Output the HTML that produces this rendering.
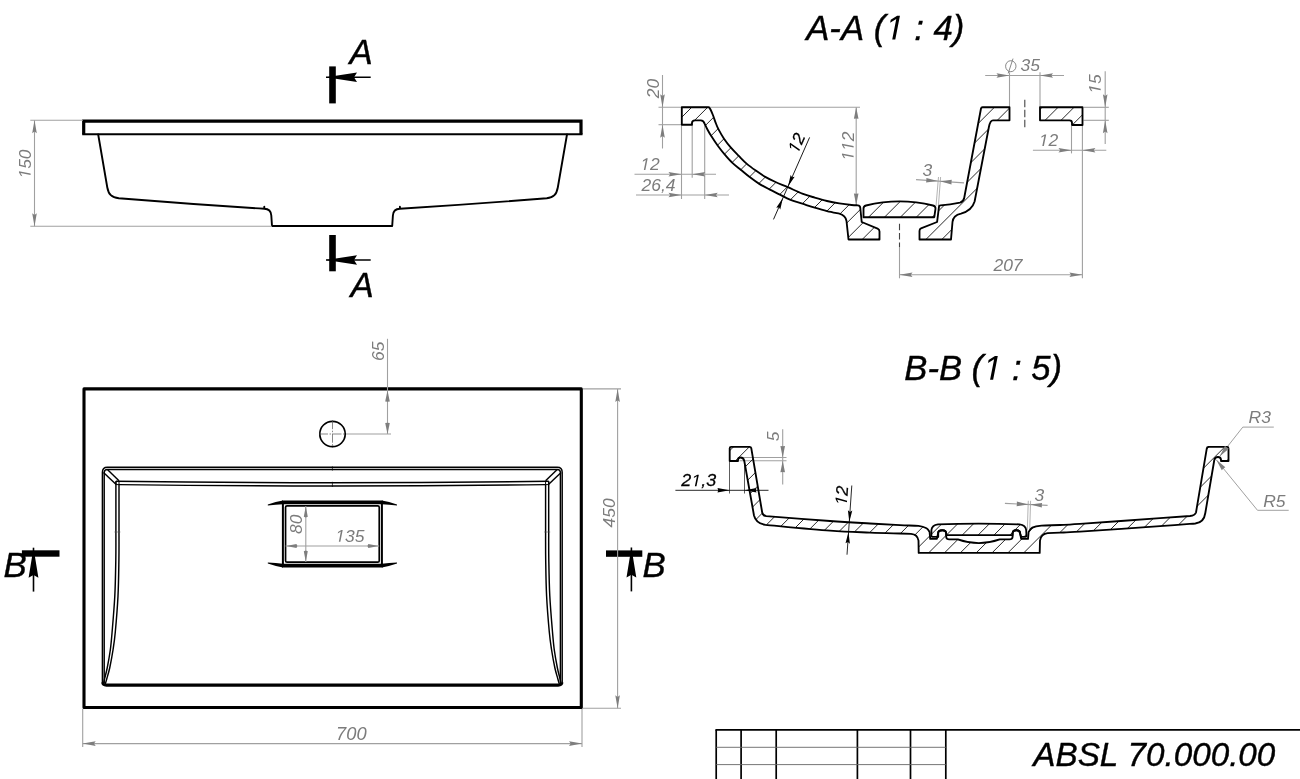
<!DOCTYPE html>
<html><head><meta charset="utf-8"><title>ABSL 70.000.00</title>
<style>html,body{margin:0;padding:0;background:#fff;}body{width:1300px;height:779px;overflow:hidden;}svg{display:block;filter:grayscale(1);}text{font-family:"Liberation Sans",sans-serif;font-style:italic;}</style></head>
<body>
<svg width="1300" height="779" viewBox="0 0 1300 779">
<rect width="1300" height="779" fill="#fff"/>
<g id="front" fill="none" stroke="#000" stroke-linejoin="round" stroke-linecap="round">
<path d="M83.7 134.3 L83.7 121.2 L581 121.2 L581 134.3" stroke-width="3.2" stroke-linejoin="miter" stroke-linecap="butt"/>
<path d="M82.2 134.3 L582.5 134.3" stroke-width="2" stroke-linecap="butt"/>
<path d="M98.2 134.5 L107.3 187.5 C108.6 194.5 111.5 197.3 118.8 198.3 Q191 204.2 264.3 208.8 L264.3 206.8 M264.3 208.8 C268.5 209 271 210.6 271.3 215.5 L272 226 L392.2 226 L392.9 215.5 C393.2 210.6 395.7 209 399.9 208.8 L399.9 206.8 M399.9 208.8 Q473 204.2 546.8 198.3 C553.8 197.3 556.5 194.5 557.8 187.5 L567 134.5" stroke-width="1.9"/>
</g>
<line x1="30.3" y1="120.3" x2="83" y2="120.3" stroke="#a0a0a0" stroke-width="1.1" />
<line x1="30.3" y1="226.2" x2="272" y2="226.2" stroke="#a0a0a0" stroke-width="1.1" />
<line x1="34.5" y1="120.3" x2="34.5" y2="226.2" stroke="#a0a0a0" stroke-width="1.1" />
<path transform="translate(34.5 120.3) rotate(-90)" fill="#7e7e7e" d="M0 0 L-13.0 2.3 L-11.3 0 L-13.0 -2.3 Z"/>
<path transform="translate(34.5 226.2) rotate(90)" fill="#7e7e7e" d="M0 0 L-13.0 2.3 L-11.3 0 L-13.0 -2.3 Z"/>
<g transform="translate(30.6 164) rotate(-90) scale(1.035 1)" fill="#7c7c7c" ><text x="-14.10" y="0" font-size="16.9" style="font-kerning:none" xml:space="preserve">  50</text><path transform="translate(-14.10 0) scale(0.008252 -0.008252)" d="M412 0 L650 1223 L289 1000 L324 1180 L701 1409 H867 L593 0 Z"/></g>
<rect x="329.2" y="66.4" width="6.6" height="37" fill="#000"/>
<rect x="329.2" y="235" width="6.6" height="36.3" fill="#000"/>
<line x1="326" y1="77.3" x2="370.7" y2="77.3" stroke="#000" stroke-width="1.6" />
<path transform="translate(326 77.3) rotate(180)" fill="#000" d="M0 0 L-31 4.7 L-28 0 L-31 -4.7 Z"/>
<line x1="326" y1="260" x2="370.7" y2="260" stroke="#000" stroke-width="1.6" />
<path transform="translate(326 260) rotate(180)" fill="#000" d="M0 0 L-31 4.7 L-28 0 L-31 -4.7 Z"/>
<g transform="translate(349.5 63.7) scale(1.003 1)" fill="#000"  stroke="#000" stroke-width="0.4"><text x="0.00" y="0" font-size="34.7" style="font-kerning:none" xml:space="preserve">A</text></g>
<g transform="translate(350.5 297.2) scale(1.003 1)" fill="#000"  stroke="#000" stroke-width="0.4"><text x="0.00" y="0" font-size="34.7" style="font-kerning:none" xml:space="preserve">A</text></g>
<rect x="21.9" y="550.3" width="37.6" height="6.4" fill="#000"/>
<rect x="606" y="550.4" width="36.3" height="6.4" fill="#000"/>
<line x1="33.5" y1="547.7" x2="33.5" y2="591.6" stroke="#000" stroke-width="1.6" />
<path transform="translate(33.5 547.7) rotate(-90)" fill="#000" d="M0 0 L-30 4.9 L-27.3 0 L-30 -4.9 Z"/>
<line x1="631.4" y1="547.5" x2="631.4" y2="591.4" stroke="#000" stroke-width="1.6" />
<path transform="translate(631.4 547.5) rotate(-90)" fill="#000" d="M0 0 L-30 4.9 L-27.3 0 L-30 -4.9 Z"/>
<g transform="translate(3.4 577.2) scale(1.003 1)" fill="#000"  stroke="#000" stroke-width="0.4"><text x="0.00" y="0" font-size="34.7" style="font-kerning:none" xml:space="preserve">B</text></g>
<g transform="translate(642.6 576.6) scale(1.003 1)" fill="#000"  stroke="#000" stroke-width="0.4"><text x="0.00" y="0" font-size="34.7" style="font-kerning:none" xml:space="preserve">B</text></g>
<g id="plan" fill="none" stroke="#000">
<rect x="84" y="388.9" width="497.3" height="318.6" stroke-width="3.1" stroke-linejoin="round"/>
<path d="M102.4 683 L102.4 472.2 Q102.4 467.2 107.4 467.2 L557.2 467.2 Q562.2 467.2 562.2 472.2 L562.2 683" stroke-width="1.45"/>
<path d="M104.2 683 L104.2 472.6 Q104.2 469.4 107.4 469.4 L557.2 469.4 Q560.4 469.4 560.4 472.6 L560.4 683" stroke-width="1.45"/>
<path d="M102.7 682.5 Q102.9 685.1 106.4 685.1 L558.2 685.1 Q561.7 685.1 561.9 682.5" stroke-width="3.1"/>
<path d="M115.9 481.3 Q332.3 484.1 548.7 481.3 M119 484.6 Q332.3 487.4 545.6 484.6" stroke-width="1.45"/>
<path d="M332.4 466.4 L332.4 470.6 M332.4 481.8 L332.4 487" stroke-width="0.7"/>
<path d="M115.90 481.30 C115.90 489.75 115.92 518.88 115.90 532.00 C115.88 545.12 115.98 549.33 115.80 560.00 C115.62 570.67 115.42 584.00 114.80 596.00 C114.18 608.00 112.85 623.00 112.10 632.00 C111.35 641.00 111.12 644.00 110.30 650.00 C109.48 656.00 108.15 663.22 107.20 668.00 C106.25 672.78 105.25 675.95 104.60 678.70 C103.95 681.45 103.52 683.53 103.30 684.50" stroke-width="1.45"/>
<path d="M119.00 484.60 C119.00 492.50 119.02 519.43 119.00 532.00 C118.98 544.57 119.07 549.33 118.90 560.00 C118.73 570.67 118.60 584.00 118.00 596.00 C117.40 608.00 116.13 623.00 115.30 632.00 C114.47 641.00 113.93 644.00 113.00 650.00 C112.07 656.00 110.73 663.22 109.70 668.00 C108.67 672.78 107.58 675.87 106.80 678.70 C106.02 681.53 105.30 683.95 105.00 685.00" stroke-width="1.45"/>
<path d="M548.70 481.30 C548.70 489.75 548.68 518.88 548.70 532.00 C548.72 545.12 548.62 549.33 548.80 560.00 C548.98 570.67 549.18 584.00 549.80 596.00 C550.42 608.00 551.75 623.00 552.50 632.00 C553.25 641.00 553.48 644.00 554.30 650.00 C555.12 656.00 556.45 663.22 557.40 668.00 C558.35 672.78 559.35 675.95 560.00 678.70 C560.65 681.45 561.08 683.53 561.30 684.50" stroke-width="1.45"/>
<path d="M545.60 484.60 C545.60 492.50 545.58 519.43 545.60 532.00 C545.62 544.57 545.53 549.33 545.70 560.00 C545.87 570.67 546.00 584.00 546.60 596.00 C547.20 608.00 548.47 623.00 549.30 632.00 C550.13 641.00 550.67 644.00 551.60 650.00 C552.53 656.00 553.87 663.22 554.90 668.00 C555.93 672.78 557.02 675.87 557.80 678.70 C558.58 681.53 559.30 683.95 559.60 685.00" stroke-width="1.45"/>
<path d="M103.50 472.40 L115.90 484.30" stroke-width="1.45"/>
<path d="M107.40 469.40 L119.00 480.70" stroke-width="1.45"/>
<path d="M561.10 472.40 L548.70 484.30" stroke-width="1.45"/>
<path d="M557.20 469.40 L545.60 480.70" stroke-width="1.45"/>
<path d="M115.9 481.3 L115.9 484.6 L119 484.6 M119 481.3 L119 484.6" stroke-width="1"/>
<path d="M548.7 481.3 L548.7 484.6 L545.6 484.6 M545.6 481.3 L545.6 484.6" stroke-width="1"/>
<path d="M114.4 532 L120.4 532 M550.2 532 L544.2 532" stroke-width="0.6" stroke="#555"/>
<circle cx="332.5" cy="434" r="12.7" stroke-width="1.7"/>
<path d="M282 502.4 L382.8 502.4 M282 565.7 L382.8 565.7" stroke-width="3.7"/>
<path d="M282.9 501 L282.9 567 M381.9 501 L381.9 567" stroke-width="2"/>
<rect x="285.55" y="505.85" width="93.7" height="56.3" rx="1.5" stroke-width="1.7"/>
<path d="M283.0 500.6 Q276.0 501.6 267.8 504.5 L267.8 505.5 Q276.0 504.90000000000003 283.0 504.3 Z" fill="#000" stroke="none"/>
<path d="M283.0 567.4 Q276.0 566.4 267.8 563.5 L267.8 562.5 Q276.0 563.1 283.0 563.7 Z" fill="#000" stroke="none"/>
<path d="M381.8 500.6 Q388.8 501.6 397.0 504.5 L397.0 505.5 Q388.8 504.90000000000003 381.8 504.3 Z" fill="#000" stroke="none"/>
<path d="M381.8 567.4 Q388.8 566.4 397.0 563.5 L397.0 562.5 Q388.8 563.1 381.8 563.7 Z" fill="#000" stroke="none"/>
</g>
<line x1="319" y1="434" x2="346" y2="434" stroke="#555" stroke-width="0.7" stroke-dasharray="9 1.5 1.5 1.5"/>
<line x1="332.5" y1="420.2" x2="332.5" y2="447.8" stroke="#555" stroke-width="0.7" stroke-dasharray="9 1.5 1.5 1.5"/>
<line x1="346" y1="434" x2="391" y2="434" stroke="#a0a0a0" stroke-width="1.1" />
<line x1="387.5" y1="338.8" x2="387.5" y2="434" stroke="#a0a0a0" stroke-width="1.1" />
<path transform="translate(387.5 390.5) rotate(-90)" fill="#7e7e7e" d="M0 0 L-11 2.3 L-11.3 0 L-11 -2.3 Z"/>
<path transform="translate(387.5 434) rotate(90)" fill="#7e7e7e" d="M0 0 L-11 2.3 L-11.3 0 L-11 -2.3 Z"/>
<g transform="translate(384 351.3) rotate(-90) scale(1.035 1)" fill="#7c7c7c" ><text x="-9.40" y="0" font-size="16.9" style="font-kerning:none" xml:space="preserve">65</text></g>
<line x1="583" y1="388.9" x2="621" y2="388.9" stroke="#a0a0a0" stroke-width="1.1" />
<line x1="583" y1="708.3" x2="621" y2="708.3" stroke="#a0a0a0" stroke-width="1.1" />
<line x1="617.6" y1="388.9" x2="617.6" y2="708.3" stroke="#a0a0a0" stroke-width="1.1" />
<path transform="translate(617.6 388.9) rotate(-90)" fill="#7e7e7e" d="M0 0 L-13.0 2.3 L-11.3 0 L-13.0 -2.3 Z"/>
<path transform="translate(617.6 708.3) rotate(90)" fill="#7e7e7e" d="M0 0 L-13.0 2.3 L-11.3 0 L-13.0 -2.3 Z"/>
<g transform="translate(614.6 512.8) rotate(-90) scale(1.035 1)" fill="#7c7c7c" ><text x="-14.10" y="0" font-size="16.9" style="font-kerning:none" xml:space="preserve">450</text></g>
<line x1="82.7" y1="709" x2="82.7" y2="747" stroke="#a0a0a0" stroke-width="1.1" />
<line x1="582" y1="709" x2="582" y2="747" stroke="#a0a0a0" stroke-width="1.1" />
<line x1="82.7" y1="743.6" x2="582" y2="743.6" stroke="#a0a0a0" stroke-width="1.1" />
<path transform="translate(82.7 743.6) rotate(180)" fill="#7e7e7e" d="M0 0 L-13.0 2.3 L-11.3 0 L-13.0 -2.3 Z"/>
<path transform="translate(582 743.6) rotate(0)" fill="#7e7e7e" d="M0 0 L-13.0 2.3 L-11.3 0 L-13.0 -2.3 Z"/>
<g transform="translate(351.3 740.2) scale(1.035 1)" fill="#7c7c7c" ><text x="-14.77" y="0" font-size="17.7" style="font-kerning:none" xml:space="preserve">700</text></g>
<line x1="305.8" y1="505.9" x2="305.8" y2="562.1" stroke="#a0a0a0" stroke-width="1.1" />
<path transform="translate(305.8 506.2) rotate(-90)" fill="#7e7e7e" d="M0 0 L-10.5 2 L-11.3 0 L-10.5 -2 Z"/>
<path transform="translate(305.8 561.8) rotate(90)" fill="#7e7e7e" d="M0 0 L-10.5 2 L-11.3 0 L-10.5 -2 Z"/>
<g transform="translate(301.8 524.2) rotate(-90) scale(1.035 1)" fill="#7c7c7c" ><text x="-9.40" y="0" font-size="16.9" style="font-kerning:none" xml:space="preserve">80</text></g>
<line x1="285.6" y1="546" x2="379.2" y2="546" stroke="#a0a0a0" stroke-width="1.1" />
<path transform="translate(286 546) rotate(180)" fill="#7e7e7e" d="M0 0 L-10.5 2 L-11.3 0 L-10.5 -2 Z"/>
<path transform="translate(378.8 546) rotate(0)" fill="#7e7e7e" d="M0 0 L-10.5 2 L-11.3 0 L-10.5 -2 Z"/>
<g transform="translate(349.9 541.7) scale(1.035 1)" fill="#7c7c7c" ><text x="-14.10" y="0" font-size="16.9" style="font-kerning:none" xml:space="preserve">  35</text><path transform="translate(-14.10 0) scale(0.008252 -0.008252)" d="M412 0 L650 1223 L289 1000 L324 1180 L701 1409 H867 L593 0 Z"/></g>
<defs><clipPath id="clipAA">
<path d="M681.8 107.2 L708.3 107.2 Q709.2 107.2 709.5 108 C710.07 108.50 711.93 112.57 712.90 115.00 C713.87 117.43 714.38 119.43 715.30 121.80 C716.22 124.17 716.95 126.38 718.40 129.20 C719.85 132.02 721.95 135.67 724.00 138.70 C726.05 141.73 728.23 144.53 730.70 147.40 C733.17 150.27 736.15 153.20 738.80 155.90 C741.45 158.60 743.77 161.15 746.60 163.60 C749.43 166.05 752.62 168.35 755.80 170.60 C758.98 172.85 762.42 175.20 765.70 177.10 C768.98 179.00 771.80 180.32 775.50 182.00 C779.20 183.68 783.43 185.27 787.90 187.20 C792.37 189.13 797.83 191.87 802.30 193.60 C806.77 195.33 810.58 196.37 814.70 197.60 C818.82 198.83 822.90 200.03 827.00 201.00 C831.10 201.97 835.20 202.73 839.30 203.40 C843.40 204.07 848.52 204.68 851.60 205.00 C854.68 205.32 856.77 205.25 857.80 205.30 Q860.2 205.5 860.3 208 L861.7 222 L877.6 228.6 Q879.5 229.5 879.5 231.5 L879.5 239.5 L848.5 239.5 L846.5 221 Q845.5 215.2 839.3 213.6 C837.25 213.18 831.10 212.08 827.00 211.10 C822.90 210.12 818.82 208.93 814.70 207.70 C810.58 206.47 806.42 205.03 802.30 203.70 C798.18 202.37 793.73 201.22 790.00 199.70 C786.27 198.18 783.33 196.32 779.90 194.60 C776.47 192.88 772.90 191.23 769.40 189.40 C765.90 187.57 762.18 185.65 758.90 183.60 C755.62 181.55 752.68 179.37 749.70 177.10 C746.72 174.83 743.88 172.37 741.00 170.00 C738.12 167.63 735.13 165.50 732.40 162.90 C729.67 160.30 727.03 157.25 724.60 154.40 C722.17 151.55 719.97 148.77 717.80 145.80 C715.63 142.83 713.35 139.37 711.60 136.60 C709.85 133.83 708.47 131.37 707.30 129.20 C706.13 127.03 705.05 124.53 704.60 123.60 Q703.6 120.4 700.8 120.4 L695 120.4 Q692 120.4 692 123 L692 124.7 L681.8 124.7 Z"/>
<path d="M863.5 217.2 L863.5 208.6 Q863.5 206.2 866 205.5 Q899.5 197.3 933 205.5 Q935.6 206.2 935.5 208.6 L934.3 217.2 Z"/>
<path d="M939 206.6 L937.1 222 L921 228.4 Q919.5 229 919.5 231 L919.5 239.5 L951 239.5 L952.5 222 C953 216 957 214.5 961 213.6 C967 212 972.5 208.5 974.6 201.5 L988.9 127 Q990.2 120.3 993 120.3 L1009.5 120.3 L1009.5 107.2 L982.5 107.2 Q981.3 107.2 981 108.5 L964.2 198 Q963.6 201.5 960 202.6 Q950 204.8 940.5 205.4 Q939 205.5 939 206.6 Z"/>
<path d="M1040 107.2 L1082.5 107.2 L1082.5 125 L1072 125 L1072 122.8 Q1072 120.3 1069.5 120.3 L1040 120.3 Z"/>
</clipPath></defs>
<line x1="1024.8" y1="99.8" x2="1024.8" y2="127.8" stroke="#444" stroke-width="1.1" stroke-dasharray="7.5 2.5"/>
<line x1="899.5" y1="223.8" x2="899.5" y2="247" stroke="#444" stroke-width="1.1" stroke-dasharray="6.5 2.8"/>
<g transform="translate(806.2 39.6) scale(1.003 1)" fill="#000"  stroke="#000" stroke-width="0.4"><text x="0.00" y="0" font-size="34.6" style="font-kerning:none" xml:space="preserve">A-A (   : 4)</text><path transform="translate(78.81 0) scale(0.016895 -0.016895)" d="M412 0 L650 1223 L289 1000 L324 1180 L701 1409 H867 L593 0 Z"/></g>
<line x1="658.5" y1="107.2" x2="860" y2="107.2" stroke="#a0a0a0" stroke-width="1.1" />
<line x1="658.5" y1="124.7" x2="681.8" y2="124.7" stroke="#a0a0a0" stroke-width="1.1" />
<line x1="662.5" y1="75" x2="662.5" y2="148.5" stroke="#a0a0a0" stroke-width="1.1" />
<path transform="translate(662.5 107.2) rotate(90)" fill="#7e7e7e" d="M0 0 L-13.0 2.3 L-11.3 0 L-13.0 -2.3 Z"/>
<path transform="translate(662.5 124.7) rotate(-90)" fill="#7e7e7e" d="M0 0 L-13.0 2.3 L-11.3 0 L-13.0 -2.3 Z"/>
<g transform="translate(658.5 88.5) rotate(-90) scale(1.035 1)" fill="#7c7c7c" ><text x="-9.40" y="0" font-size="16.9" style="font-kerning:none" xml:space="preserve">20</text></g>
<line x1="681.5" y1="125.5" x2="681.5" y2="199" stroke="#a0a0a0" stroke-width="1.1" />
<line x1="692.2" y1="125" x2="692.2" y2="177.8" stroke="#a0a0a0" stroke-width="1.1" />
<line x1="704.7" y1="123" x2="704.7" y2="199" stroke="#a0a0a0" stroke-width="1.1" />
<line x1="634.5" y1="174.2" x2="716" y2="174.2" stroke="#a0a0a0" stroke-width="1.1" />
<path transform="translate(681.5 174.2) rotate(0)" fill="#7e7e7e" d="M0 0 L-13.0 2.3 L-11.3 0 L-13.0 -2.3 Z"/>
<path transform="translate(692.2 174.2) rotate(180)" fill="#7e7e7e" d="M0 0 L-13.0 2.3 L-11.3 0 L-13.0 -2.3 Z"/>
<g transform="translate(640.3 170) scale(1.035 1)" fill="#7c7c7c" ><text x="0.00" y="0" font-size="16.9" style="font-kerning:none" xml:space="preserve">  2</text><path transform="translate(0.00 0) scale(0.008252 -0.008252)" d="M412 0 L650 1223 L289 1000 L324 1180 L701 1409 H867 L593 0 Z"/></g>
<line x1="636" y1="195" x2="729" y2="195" stroke="#a0a0a0" stroke-width="1.1" />
<path transform="translate(681.5 195) rotate(0)" fill="#7e7e7e" d="M0 0 L-13.0 2.3 L-11.3 0 L-13.0 -2.3 Z"/>
<path transform="translate(704.7 195) rotate(180)" fill="#7e7e7e" d="M0 0 L-13.0 2.3 L-11.3 0 L-13.0 -2.3 Z"/>
<g transform="translate(641.5 191) scale(1.035 1)" fill="#7c7c7c" ><text x="0.00" y="0" font-size="16.9" style="font-kerning:none" xml:space="preserve">26,4</text></g>
<line x1="856.2" y1="107.2" x2="856.2" y2="205" stroke="#a0a0a0" stroke-width="1.1" />
<path transform="translate(856.2 107.2) rotate(-90)" fill="#7e7e7e" d="M0 0 L-11.5 2.3 L-11.3 0 L-11.5 -2.3 Z"/>
<path transform="translate(856.2 205) rotate(90)" fill="#7e7e7e" d="M0 0 L-11.5 2.3 L-11.3 0 L-11.5 -2.3 Z"/>
<g transform="translate(853.6 146.2) rotate(-90) scale(1.035 1)" fill="#7c7c7c" ><text x="-14.10" y="0" font-size="16.9" style="font-kerning:none" xml:space="preserve">    2</text><path transform="translate(-14.10 0) scale(0.008252 -0.008252)" d="M412 0 L650 1223 L289 1000 L324 1180 L701 1409 H867 L593 0 Z"/><path transform="translate(-4.70 0) scale(0.008252 -0.008252)" d="M412 0 L650 1223 L289 1000 L324 1180 L701 1409 H867 L593 0 Z"/></g>
<line x1="809.6" y1="137.4" x2="773.5" y2="219.4" stroke="#000" stroke-width="0.9" />
<path transform="translate(788 186.5) rotate(113.8)" fill="#000" d="M0 0 L-11.5 2.2 L-10 0 L-11.5 -2.2 Z"/>
<path transform="translate(782.9 198) rotate(-66.2)" fill="#000" d="M0 0 L-11.5 2.2 L-10 0 L-11.5 -2.2 Z"/>
<g transform="translate(801.8 145.3) rotate(-66.2) scale(1.035 1)" fill="#000" stroke="#000" stroke-width="0.25"><text x="-9.40" y="0" font-size="16.9" style="font-kerning:none" xml:space="preserve">  2</text><path transform="translate(-9.40 0) scale(0.008252 -0.008252)" d="M412 0 L650 1223 L289 1000 L324 1180 L701 1409 H867 L593 0 Z"/></g>
<line x1="916" y1="179.6" x2="964" y2="182.9" stroke="#a0a0a0" stroke-width="1.1" />
<line x1="938.5" y1="177" x2="936" y2="206" stroke="#a0a0a0" stroke-width="0.8" />
<line x1="940.6" y1="177" x2="938.4" y2="206" stroke="#a0a0a0" stroke-width="0.8" />
<path transform="translate(937.7 181.1) rotate(4)" fill="#7e7e7e" d="M0 0 L-11.5 2.3 L-11.3 0 L-11.5 -2.3 Z"/>
<path transform="translate(940.2 181.3) rotate(184)" fill="#7e7e7e" d="M0 0 L-11.5 2.3 L-11.3 0 L-11.5 -2.3 Z"/>
<g transform="translate(922.5 175.6) scale(1.035 1)" fill="#7c7c7c" ><text x="0.00" y="0" font-size="16.9" style="font-kerning:none" xml:space="preserve">3</text></g>
<line x1="1009.5" y1="72.3" x2="1009.5" y2="107" stroke="#a0a0a0" stroke-width="1.1" />
<line x1="1040" y1="72.3" x2="1040" y2="107" stroke="#a0a0a0" stroke-width="1.1" />
<line x1="985.2" y1="75.5" x2="1064" y2="75.5" stroke="#a0a0a0" stroke-width="1.1" />
<path transform="translate(1009.5 75.5) rotate(0)" fill="#7e7e7e" d="M0 0 L-13.0 2.3 L-11.3 0 L-13.0 -2.3 Z"/>
<path transform="translate(1040 75.5) rotate(180)" fill="#7e7e7e" d="M0 0 L-13.0 2.3 L-11.3 0 L-13.0 -2.3 Z"/>
<ellipse cx="1010.8" cy="66.2" rx="5.2" ry="5.5" fill="none" stroke="#7c7c7c" stroke-width="0.9"/>
<line x1="1013" y1="58.6" x2="1008.2" y2="73.4" stroke="#7c7c7c" stroke-width="0.9" />
<g transform="translate(1020.6 71.3) scale(1.035 1)" fill="#7c7c7c" ><text x="0.00" y="0" font-size="16.9" style="font-kerning:none" xml:space="preserve">35</text></g>
<line x1="1083.5" y1="107.3" x2="1108.8" y2="107.3" stroke="#a0a0a0" stroke-width="1.1" />
<line x1="1083.5" y1="120.3" x2="1108.8" y2="120.3" stroke="#a0a0a0" stroke-width="1.1" />
<line x1="1105.2" y1="71.2" x2="1105.2" y2="144" stroke="#a0a0a0" stroke-width="1.1" />
<path transform="translate(1105.2 107.3) rotate(90)" fill="#7e7e7e" d="M0 0 L-13.0 2.3 L-11.3 0 L-13.0 -2.3 Z"/>
<path transform="translate(1105.2 120.3) rotate(-90)" fill="#7e7e7e" d="M0 0 L-13.0 2.3 L-11.3 0 L-13.0 -2.3 Z"/>
<g transform="translate(1100.7 84) rotate(-90) scale(1.035 1)" fill="#7c7c7c" ><text x="-9.40" y="0" font-size="16.9" style="font-kerning:none" xml:space="preserve">  5</text><path transform="translate(-9.40 0) scale(0.008252 -0.008252)" d="M412 0 L650 1223 L289 1000 L324 1180 L701 1409 H867 L593 0 Z"/></g>
<line x1="1071.5" y1="126" x2="1071.5" y2="153.4" stroke="#a0a0a0" stroke-width="1.1" />
<line x1="1082.4" y1="126" x2="1082.4" y2="278.3" stroke="#a0a0a0" stroke-width="1.1" />
<line x1="1032.9" y1="150.3" x2="1106.3" y2="150.3" stroke="#a0a0a0" stroke-width="1.1" />
<path transform="translate(1071.5 150.3) rotate(0)" fill="#7e7e7e" d="M0 0 L-13.0 2.3 L-11.3 0 L-13.0 -2.3 Z"/>
<path transform="translate(1082.4 150.3) rotate(180)" fill="#7e7e7e" d="M0 0 L-13.0 2.3 L-11.3 0 L-13.0 -2.3 Z"/>
<g transform="translate(1038.8 146.1) scale(1.035 1)" fill="#7c7c7c" ><text x="0.00" y="0" font-size="16.9" style="font-kerning:none" xml:space="preserve">  2</text><path transform="translate(0.00 0) scale(0.008252 -0.008252)" d="M412 0 L650 1223 L289 1000 L324 1180 L701 1409 H867 L593 0 Z"/></g>
<line x1="899.5" y1="247" x2="899.5" y2="278.3" stroke="#a0a0a0" stroke-width="1.1" />
<line x1="899.5" y1="274.7" x2="1082.4" y2="274.7" stroke="#a0a0a0" stroke-width="1.1" />
<path transform="translate(899.5 274.7) rotate(180)" fill="#7e7e7e" d="M0 0 L-13.0 2.3 L-11.3 0 L-13.0 -2.3 Z"/>
<path transform="translate(1082.4 274.7) rotate(0)" fill="#7e7e7e" d="M0 0 L-13.0 2.3 L-11.3 0 L-13.0 -2.3 Z"/>
<g transform="translate(1008 271) scale(1.035 1)" fill="#7c7c7c" ><text x="-14.10" y="0" font-size="16.9" style="font-kerning:none" xml:space="preserve">207</text></g>
<g clip-path="url(#clipAA)" stroke="#111" stroke-width="0.9" fill="none">
<path d="M667.14 100 L522.14 245 M683.07 100 L538.07 245 M699.00 100 L554.00 245 M714.93 100 L569.93 245 M730.86 100 L585.86 245 M746.79 100 L601.79 245 M762.72 100 L617.72 245 M778.65 100 L633.65 245 M794.58 100 L649.58 245 M810.51 100 L665.51 245 M826.44 100 L681.44 245 M842.37 100 L697.37 245 M858.30 100 L713.30 245 M874.23 100 L729.23 245 M890.16 100 L745.16 245 M906.09 100 L761.09 245 M922.02 100 L777.02 245 M937.95 100 L792.95 245 M953.88 100 L808.88 245 M969.81 100 L824.81 245 M985.74 100 L840.74 245 M1001.67 100 L856.67 245 M1017.60 100 L872.60 245 M1033.53 100 L888.53 245 M1049.46 100 L904.46 245 M1065.39 100 L920.39 245 M1081.32 100 L936.32 245 M1097.25 100 L952.25 245 M1113.18 100 L968.18 245"/>
</g>
<g id="secAA" fill="none" stroke="#000" stroke-width="1.85" stroke-linejoin="round">
<path d="M681.8 107.2 L708.3 107.2 Q709.2 107.2 709.5 108 C710.07 108.50 711.93 112.57 712.90 115.00 C713.87 117.43 714.38 119.43 715.30 121.80 C716.22 124.17 716.95 126.38 718.40 129.20 C719.85 132.02 721.95 135.67 724.00 138.70 C726.05 141.73 728.23 144.53 730.70 147.40 C733.17 150.27 736.15 153.20 738.80 155.90 C741.45 158.60 743.77 161.15 746.60 163.60 C749.43 166.05 752.62 168.35 755.80 170.60 C758.98 172.85 762.42 175.20 765.70 177.10 C768.98 179.00 771.80 180.32 775.50 182.00 C779.20 183.68 783.43 185.27 787.90 187.20 C792.37 189.13 797.83 191.87 802.30 193.60 C806.77 195.33 810.58 196.37 814.70 197.60 C818.82 198.83 822.90 200.03 827.00 201.00 C831.10 201.97 835.20 202.73 839.30 203.40 C843.40 204.07 848.52 204.68 851.60 205.00 C854.68 205.32 856.77 205.25 857.80 205.30 Q860.2 205.5 860.3 208 L861.7 222 L877.6 228.6 Q879.5 229.5 879.5 231.5 L879.5 239.5 L848.5 239.5 L846.5 221 Q845.5 215.2 839.3 213.6 C837.25 213.18 831.10 212.08 827.00 211.10 C822.90 210.12 818.82 208.93 814.70 207.70 C810.58 206.47 806.42 205.03 802.30 203.70 C798.18 202.37 793.73 201.22 790.00 199.70 C786.27 198.18 783.33 196.32 779.90 194.60 C776.47 192.88 772.90 191.23 769.40 189.40 C765.90 187.57 762.18 185.65 758.90 183.60 C755.62 181.55 752.68 179.37 749.70 177.10 C746.72 174.83 743.88 172.37 741.00 170.00 C738.12 167.63 735.13 165.50 732.40 162.90 C729.67 160.30 727.03 157.25 724.60 154.40 C722.17 151.55 719.97 148.77 717.80 145.80 C715.63 142.83 713.35 139.37 711.60 136.60 C709.85 133.83 708.47 131.37 707.30 129.20 C706.13 127.03 705.05 124.53 704.60 123.60 Q703.6 120.4 700.8 120.4 L695 120.4 Q692 120.4 692 123 L692 124.7 L681.8 124.7 Z"/>
<path d="M863.5 217.2 L863.5 208.6 Q863.5 206.2 866 205.5 Q899.5 197.3 933 205.5 Q935.6 206.2 935.5 208.6 L934.3 217.2 Z"/>
<path d="M939 206.6 L937.1 222 L921 228.4 Q919.5 229 919.5 231 L919.5 239.5 L951 239.5 L952.5 222 C953 216 957 214.5 961 213.6 C967 212 972.5 208.5 974.6 201.5 L988.9 127 Q990.2 120.3 993 120.3 L1009.5 120.3 L1009.5 107.2 L982.5 107.2 Q981.3 107.2 981 108.5 L964.2 198 Q963.6 201.5 960 202.6 Q950 204.8 940.5 205.4 Q939 205.5 939 206.6 Z"/>
<path d="M1040 107.2 L1082.5 107.2 L1082.5 125 L1072 125 L1072 122.8 Q1072 120.3 1069.5 120.3 L1040 120.3 Z"/>
</g>
<defs><clipPath id="clipBB">
<path d="M729.7 448.3 Q729.7 446.8 731.2 446.8 L749.5 446.8 Q751 446.8 751.3 448.3 L762.2 512.5 Q762.8 515.8 766.3 516.2 C776.92 517.00 812.72 519.78 830.00 521.00 C847.28 522.22 858.33 522.80 870.00 523.50 C881.67 524.20 891.92 524.80 900.00 525.20 C908.08 525.60 914.08 525.38 918.50 525.90 C922.92 526.42 924.65 527.28 926.50 528.30 C928.35 529.32 929.08 531.38 929.60 532.00 L930.2 538.8 L936.9 538.8 L938.2 533 Q938.2 530.2 942.2 530.2 Q946.2 530.2 946.2 533.5 L946.2 537 Q946.5 539.4 949.2 539.4 L957.8 539.4 Q978.8 546.8 999.7 539.4 L1009.5 539.4 Q1012.3 539.4 1012.6 537 L1012.6 533.5 Q1012.6 530.2 1016.3 530.2 Q1020 530.2 1020 533 L1021.2 538.8 L1028 538.8 L1028.6 532 C1029.22 531.28 1030.15 528.77 1032.30 527.70 C1034.45 526.63 1036.88 526.05 1041.50 525.60 C1046.12 525.15 1053.58 525.28 1060.00 525.00 C1066.42 524.72 1063.33 525.03 1080.00 523.90 C1096.67 522.77 1141.67 519.52 1160.00 518.20 C1178.33 516.88 1185.00 516.37 1190.00 516.00 Q1195 515.5 1196 512.5 L1206.8 448.3 Q1207 446.9 1208.5 446.9 L1227 446.9 Q1228.5 446.9 1228.5 448.4 L1228.5 461 L1221 461 L1221 459.5 Q1220.5 457 1218 457 Q1215 457 1214.3 460 L1205.3 513 Q1204 522.5 1195.3 523.5 C1189.42 523.95 1179.22 524.85 1160.00 526.20 C1140.78 527.55 1096.67 530.53 1080.00 531.60 C1063.33 532.67 1065.38 532.33 1060.00 532.60 C1054.62 532.87 1049.75 533.10 1047.70 533.20 Q1041 534 1040 540.6 L1039.7 552.9 L918.7 552.9 L918.5 540.6 Q917.5 534.2 911 533.8 C909.17 533.75 906.83 533.70 900.00 533.50 C893.17 533.30 881.67 533.07 870.00 532.60 C858.33 532.13 847.42 532.00 830.00 530.70 C812.58 529.40 776.25 525.78 765.50 524.80 Q756 523.5 754 515.5 L744.3 461 Q743.5 457.5 740.5 457.5 Q738 457.5 738 460 L738 461 L729.7 461 Z"/>
<path d="M931.4 530 Q932 525.2 938 524.4 Q978.8 522.8 1019.5 524.4 Q1025.6 525.2 1026.2 530 L1026.5 536 Q1026.5 536.9 1025.5 536.9 L1021.2 536.9 L1020 533 Q1020 530.2 1016.3 530.2 Q1012.6 530.2 1012.6 533.5 L1012.6 535.1 L946.2 535.1 L946.2 533.5 Q946.2 530.2 942.2 530.2 Q938.2 530.2 938.2 533 L938.2 536.9 L932.2 536.9 Q931.4 536.9 931.4 536 Z"/>
</clipPath></defs>
<g transform="translate(904.3 379.8) scale(1.003 1)" fill="#000"  stroke="#000" stroke-width="0.4"><text x="0.00" y="0" font-size="34.5" style="font-kerning:none" xml:space="preserve">B-B (   : 5)</text><path transform="translate(78.59 0) scale(0.016846 -0.016846)" d="M412 0 L650 1223 L289 1000 L324 1180 L701 1409 H867 L593 0 Z"/></g>
<line x1="739.5" y1="457.5" x2="786.5" y2="457.5" stroke="#a0a0a0" stroke-width="1.1" />
<line x1="739.5" y1="460.8" x2="786.5" y2="460.8" stroke="#a0a0a0" stroke-width="1.1" />
<line x1="782.7" y1="429.2" x2="782.7" y2="484.5" stroke="#a0a0a0" stroke-width="1.1" />
<path transform="translate(782.7 457.5) rotate(90)" fill="#7e7e7e" d="M0 0 L-11.5 2.3 L-11.3 0 L-11.5 -2.3 Z"/>
<path transform="translate(782.7 460.8) rotate(-90)" fill="#7e7e7e" d="M0 0 L-11.5 2.3 L-11.3 0 L-11.5 -2.3 Z"/>
<g transform="translate(778.6 436.5) rotate(-90) scale(1.035 1)" fill="#7c7c7c" ><text x="-4.70" y="0" font-size="16.9" style="font-kerning:none" xml:space="preserve">5</text></g>
<line x1="729.5" y1="462" x2="729.5" y2="493.5" stroke="#333" stroke-width="0.8" />
<line x1="744.5" y1="462" x2="744.5" y2="493.5" stroke="#333" stroke-width="0.8" />
<line x1="675.4" y1="490.3" x2="768.5" y2="490.3" stroke="#111" stroke-width="0.9" />
<path transform="translate(729.5 490.3) rotate(0)" fill="#000" d="M0 0 L-12 2.2 L-11.3 0 L-12 -2.2 Z"/>
<path transform="translate(744.5 490.3) rotate(180)" fill="#000" d="M0 0 L-12 2.2 L-11.3 0 L-12 -2.2 Z"/>
<g transform="translate(681.3 486.3) scale(1.06 1)" fill="#000" stroke="#000" stroke-width="0.25"><text x="0.00" y="0" font-size="16.9" style="font-kerning:none" xml:space="preserve">2  ,3</text><path transform="translate(9.40 0) scale(0.008252 -0.008252)" d="M412 0 L650 1223 L289 1000 L324 1180 L701 1409 H867 L593 0 Z"/></g>
<line x1="851.8" y1="485.5" x2="847" y2="554.7" stroke="#111" stroke-width="0.9" />
<path transform="translate(849.3 521.9) rotate(94)" fill="#000" d="M0 0 L-11.5 2.2 L-10 0 L-11.5 -2.2 Z"/>
<path transform="translate(848.5 532) rotate(-86)" fill="#000" d="M0 0 L-11.5 2.2 L-10 0 L-11.5 -2.2 Z"/>
<g transform="translate(847.4 496) rotate(-86) scale(1.035 1)" fill="#000" stroke="#000" stroke-width="0.25"><text x="-9.40" y="0" font-size="16.9" style="font-kerning:none" xml:space="preserve">  2</text><path transform="translate(-9.40 0) scale(0.008252 -0.008252)" d="M412 0 L650 1223 L289 1000 L324 1180 L701 1409 H867 L593 0 Z"/></g>
<line x1="1028.3" y1="500.8" x2="1027.3" y2="530" stroke="#a0a0a0" stroke-width="0.8" />
<line x1="1030.6" y1="500.8" x2="1029.7" y2="530" stroke="#a0a0a0" stroke-width="0.8" />
<line x1="1004.9" y1="503.4" x2="1047.6" y2="505.4" stroke="#a0a0a0" stroke-width="1.1" />
<path transform="translate(1028.2 504.5) rotate(3)" fill="#7e7e7e" d="M0 0 L-11.5 2.3 L-11.3 0 L-11.5 -2.3 Z"/>
<path transform="translate(1030.5 504.6) rotate(183)" fill="#7e7e7e" d="M0 0 L-11.5 2.3 L-11.3 0 L-11.5 -2.3 Z"/>
<g transform="translate(1034.6 500.8) scale(1.035 1)" fill="#7c7c7c" ><text x="0.00" y="0" font-size="16.9" style="font-kerning:none" xml:space="preserve">3</text></g>
<path d="M1219.8 456.3 L1242.8 427.1 L1273.8 427.1" fill="none" stroke="#a0a0a0" stroke-width="1"/>
<g transform="translate(1248.6 423.2) scale(1.035 1)" fill="#7c7c7c" ><text x="0.00" y="0" font-size="16.9" style="font-kerning:none" xml:space="preserve">R3</text></g>
<path d="M1216.3 459.8 L1257.5 510.3 L1288.7 510.3" fill="none" stroke="#a0a0a0" stroke-width="1"/>
<path transform="translate(1216.3 459.8) rotate(-129.2)" fill="#7e7e7e" d="M0 0 L-11.5 2.3 L-11.3 0 L-11.5 -2.3 Z"/>
<g transform="translate(1263.2 506.7) scale(1.035 1)" fill="#7c7c7c" ><text x="0.00" y="0" font-size="16.9" style="font-kerning:none" xml:space="preserve">R5</text></g>
<g clip-path="url(#clipBB)" stroke="#111" stroke-width="0.9" fill="none">
<path d="M724.50 440 L604.50 560 M740.35 440 L620.35 560 M756.20 440 L636.20 560 M772.05 440 L652.05 560 M787.90 440 L667.90 560 M803.75 440 L683.75 560 M819.60 440 L699.60 560 M835.45 440 L715.45 560 M851.30 440 L731.30 560 M867.15 440 L747.15 560 M883.00 440 L763.00 560 M898.85 440 L778.85 560 M914.70 440 L794.70 560 M930.55 440 L810.55 560 M946.40 440 L826.40 560 M962.25 440 L842.25 560 M978.10 440 L858.10 560 M993.95 440 L873.95 560 M1009.80 440 L889.80 560 M1025.65 440 L905.65 560 M1041.50 440 L921.50 560 M1057.35 440 L937.35 560 M1073.20 440 L953.20 560 M1089.05 440 L969.05 560 M1104.90 440 L984.90 560 M1120.75 440 L1000.75 560 M1136.60 440 L1016.60 560 M1152.45 440 L1032.45 560 M1168.30 440 L1048.30 560 M1184.15 440 L1064.15 560 M1200.00 440 L1080.00 560 M1215.85 440 L1095.85 560 M1231.70 440 L1111.70 560 M1247.55 440 L1127.55 560 M1263.40 440 L1143.40 560"/>
</g>
<g id="secBB" fill="none" stroke="#000" stroke-width="1.85" stroke-linejoin="round">
<path d="M729.7 448.3 Q729.7 446.8 731.2 446.8 L749.5 446.8 Q751 446.8 751.3 448.3 L762.2 512.5 Q762.8 515.8 766.3 516.2 C776.92 517.00 812.72 519.78 830.00 521.00 C847.28 522.22 858.33 522.80 870.00 523.50 C881.67 524.20 891.92 524.80 900.00 525.20 C908.08 525.60 914.08 525.38 918.50 525.90 C922.92 526.42 924.65 527.28 926.50 528.30 C928.35 529.32 929.08 531.38 929.60 532.00 L930.2 538.8 L936.9 538.8 L938.2 533 Q938.2 530.2 942.2 530.2 Q946.2 530.2 946.2 533.5 L946.2 537 Q946.5 539.4 949.2 539.4 L957.8 539.4 Q978.8 546.8 999.7 539.4 L1009.5 539.4 Q1012.3 539.4 1012.6 537 L1012.6 533.5 Q1012.6 530.2 1016.3 530.2 Q1020 530.2 1020 533 L1021.2 538.8 L1028 538.8 L1028.6 532 C1029.22 531.28 1030.15 528.77 1032.30 527.70 C1034.45 526.63 1036.88 526.05 1041.50 525.60 C1046.12 525.15 1053.58 525.28 1060.00 525.00 C1066.42 524.72 1063.33 525.03 1080.00 523.90 C1096.67 522.77 1141.67 519.52 1160.00 518.20 C1178.33 516.88 1185.00 516.37 1190.00 516.00 Q1195 515.5 1196 512.5 L1206.8 448.3 Q1207 446.9 1208.5 446.9 L1227 446.9 Q1228.5 446.9 1228.5 448.4 L1228.5 461 L1221 461 L1221 459.5 Q1220.5 457 1218 457 Q1215 457 1214.3 460 L1205.3 513 Q1204 522.5 1195.3 523.5 C1189.42 523.95 1179.22 524.85 1160.00 526.20 C1140.78 527.55 1096.67 530.53 1080.00 531.60 C1063.33 532.67 1065.38 532.33 1060.00 532.60 C1054.62 532.87 1049.75 533.10 1047.70 533.20 Q1041 534 1040 540.6 L1039.7 552.9 L918.7 552.9 L918.5 540.6 Q917.5 534.2 911 533.8 C909.17 533.75 906.83 533.70 900.00 533.50 C893.17 533.30 881.67 533.07 870.00 532.60 C858.33 532.13 847.42 532.00 830.00 530.70 C812.58 529.40 776.25 525.78 765.50 524.80 Q756 523.5 754 515.5 L744.3 461 Q743.5 457.5 740.5 457.5 Q738 457.5 738 460 L738 461 L729.7 461 Z"/>
<path d="M931.4 530 Q932 525.2 938 524.4 Q978.8 522.8 1019.5 524.4 Q1025.6 525.2 1026.2 530 L1026.5 536 Q1026.5 536.9 1025.5 536.9 L1021.2 536.9 L1020 533 Q1020 530.2 1016.3 530.2 Q1012.6 530.2 1012.6 533.5 L1012.6 535.1 L946.2 535.1 L946.2 533.5 Q946.2 530.2 942.2 530.2 Q938.2 530.2 938.2 533 L938.2 536.9 L932.2 536.9 Q931.4 536.9 931.4 536 Z"/>
</g>
<path transform="translate(1219.8 456.3) rotate(128.2)" fill="#7e7e7e" d="M0 0 L-11.5 2.5 L-11.3 0 L-11.5 -2.5 Z"/>
<g id="titleblock" fill="none" stroke="#000" stroke-width="1.7">
<path d="M715.4 729.9 L1300 729.9" stroke-width="1.9"/>
<path d="M716.2 730 L716.2 779"/>
<path d="M741.1 730 L741.1 779"/>
<path d="M776.2 730 L776.2 779"/>
<path d="M857.4 730 L857.4 779"/>
<path d="M910.5 730 L910.5 779"/>
<path d="M945.8 730 L945.8 779"/>
</g>
<line x1="716.2" y1="747.3" x2="945.8" y2="747.3" stroke="#666" stroke-width="0.9" />
<line x1="716.2" y1="764.6" x2="945.8" y2="764.6" stroke="#666" stroke-width="0.9" />
<g transform="translate(1033.3 766.2) scale(0.975 1)" fill="#000"  stroke="#000" stroke-width="0.4"><text x="0.00" y="0" font-size="34.1" style="font-kerning:none" xml:space="preserve">ABSL 70.000.00</text></g>
</svg>
</body></html>
